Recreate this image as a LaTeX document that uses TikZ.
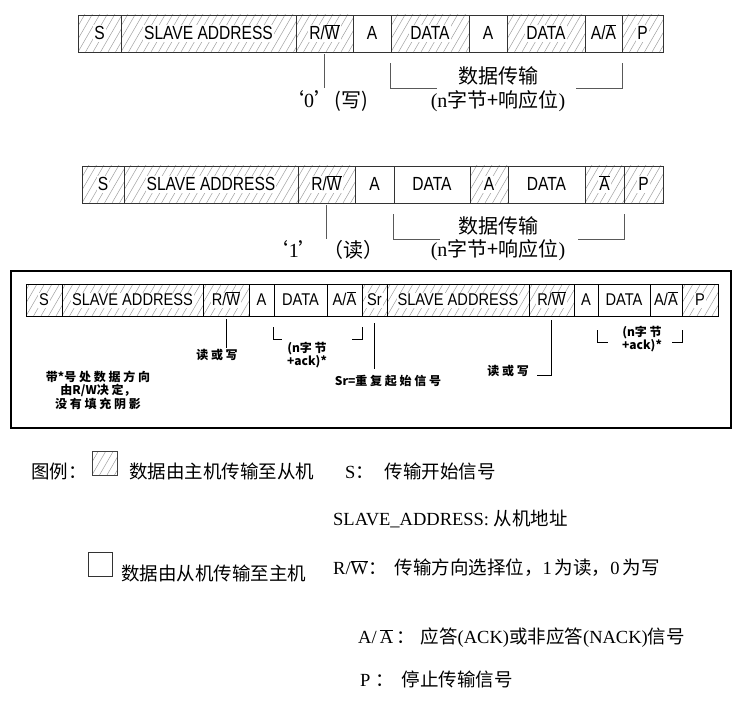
\documentclass[tikz,border=0pt]{standalone}
\usepackage{fontspec}
\setmainfont{Liberation Serif}
\newfontfamily\cjk{Noto Sans CJK SC}
\newfontfamily\cellfa[FakeStretch=0.82]{Liberation Sans}
\newfontfamily\cellfb[FakeStretch=0.86]{Liberation Sans}
\usetikzlibrary{fit}
\newcommand\ovl[1]{\ensuremath{\overline{\mbox{#1}}}}
\begin{document}
\begin{tikzpicture}[x=1pt,y=-1pt]
\tikzset{
 hline/.style={gray!75, line width=0.5pt},
 hatch/.style={path picture={\foreach \i in {-8,...,26}{\draw[hline] ([xshift=\i*7.5pt]path picture bounding box.south west) -- ++(22pt,38pt);}}},
 cellA/.style={draw=black!80, line width=0.9pt, inner sep=0pt},
 tA/.style={inner sep=1pt, font=\cellfa\fontsize{19}{19}\selectfont, text height=13.5pt, text depth=1pt},
 htA/.style={tA, fill=white},
 cellB/.style={draw=black, line width=0.9pt, inner sep=0pt},
 tB/.style={inner sep=1pt, font=\cellfb\fontsize{17}{17}\selectfont, text height=12pt, text depth=1pt},
 htB/.style={tB, fill=white},
 ann/.style={draw=black!65, line width=0.7pt},
 annB/.style={draw=black, line width=1pt},
 big/.style={font=\fontsize{20}{22}\selectfont, inner sep=0pt},
 note/.style={font=\cjk\bfseries\fontsize{12}{13.5}\selectfont, align=center, inner sep=0pt},
 leg/.style={font=\fontsize{18.5}{20}\selectfont, anchor=west, inner sep=0pt},
}
\useasboundingbox (0,0) rectangle (742,706);

% ---------- row 1 (write) ----------
\node[cellA, hatch, fit={(78,15) (121,52)}, label={[htA]center:S}] (r1s) {};
\node[cellA, hatch, fit={(121,15) (296,52)}, label={[htA]center:SLAVE ADDRESS}] (r1sa) {};
\node[cellA, hatch, fit={(296,15) (353,52)}, label={[htA]center:R/\ovl{W}}] (r1rw) {};
\node[cellA, fit={(353,15) (391,52)}, label={[tA]center:A}] (r1a1) {};
\node[cellA, hatch, fit={(391,15) (469,52)}, label={[htA]center:DATA}] (r1d1) {};
\node[cellA, fit={(469,15) (507,52)}, label={[tA]center:A}] (r1a2) {};
\node[cellA, hatch, fit={(507,15) (585,52)}, label={[htA]center:DATA}] (r1d2) {};
\node[cellA, fit={(585,15) (622,52)}, label={[tA]center:A/\ovl{A}}] (r1aa) {};
\node[cellA, hatch, fit={(622,15) (663,52)}, label={[htA]center:P}] (r1p) {};

\draw[ann] ([yshift=-2pt]r1rw.south) -- ++(0,34);
\draw[ann] ([yshift=-11pt]r1d1.south west) -- ++(0,25) -- ++(46,0);
\draw[ann] ([yshift=-11pt]r1aa.south east) -- ++(0,25) -- ++(-46,0);
\node[big] (r1t1) at (498,76) {\cjk 数据传输};
\node[big] (r1t2) at (498,101) {(n{\cjk 字节+响应位})};
\node[big] (r1t3) at (326,101) {{\cjk ‘}0{\cjk ’(写)}};

% ---------- row 2 (read) ----------
\node[cellA, hatch, fit={(82,166) (124,203)}, label={[htA]center:S}] (r2s) {};
\node[cellA, hatch, fit={(124,166) (298,203)}, label={[htA]center:SLAVE ADDRESS}] (r2sa) {};
\node[cellA, hatch, fit={(298,166) (355,203)}, label={[htA]center:R/\ovl{W}}] (r2rw) {};
\node[cellA, fit={(355,166) (394,203)}, label={[tA]center:A}] (r2a1) {};
\node[cellA, fit={(394,166) (470,203)}, label={[tA]center:DATA}] (r2d1) {};
\node[cellA, hatch, fit={(470,166) (508,203)}, label={[htA]center:A}] (r2a2) {};
\node[cellA, fit={(508,166) (585,203)}, label={[tA]center:DATA}] (r2d2) {};
\node[cellA, hatch, fit={(585,166) (624,203)}, label={[htA]center:\ovl{A}}] (r2na) {};
\node[cellA, hatch, fit={(624,166) (663,203)}, label={[htA]center:P}] (r2p) {};

\draw[ann] ([yshift=-2pt]r2rw.south) -- ++(0,34);
\draw[ann] ([yshift=-11pt]r2d1.south west) -- ++(0,25) -- ++(46,0);
\draw[ann] ([yshift=-11pt]r2na.south east) -- ++(0,25) -- ++(-46,0);
\node[big] (r2t1) at (498,226) {\cjk 数据传输};
\node[big] (r2t2) at (498,250) {(n{\cjk 字节+响应位})};
\node[big] (r2t3) at (326,250) {{\cjk ‘}1{\cjk ’ （读）}};

% ---------- combined frame ----------
\node[draw=black, line width=1.2pt, inner sep=0pt, fit={(11,271) (731,428)}] (frame) {};
\node[cellB, hatch, fit={(26,284) (62,316)}, label={[htB]center:S}] (b3s) {};
\node[cellB, hatch, fit={(62,284) (203,316)}, label={[htB]center:SLAVE ADDRESS}] (b3sa1) {};
\node[cellB, hatch, fit={(203,284) (249,316)}, label={[htB]center:R/\ovl{W}}] (b3rw1) {};
\node[cellB, fit={(249,284) (274,316)}, label={[tB]center:A}] (b3a1) {};
\node[cellB, fit={(274,284) (327,316)}, label={[tB]center:DATA}] (b3d1) {};
\node[cellB, fit={(327,284) (362,316)}, label={[tB]center:A/\ovl{A}}] (b3aa1) {};
\node[cellB, hatch, fit={(362,284) (387,316)}, label={[htB]center:Sr}] (b3sr) {};
\node[cellB, hatch, fit={(387,284) (529,316)}, label={[htB]center:SLAVE ADDRESS}] (b3sa2) {};
\node[cellB, hatch, fit={(529,284) (574,316)}, label={[htB]center:R/\ovl{W}}] (b3rw2) {};
\node[cellB, fit={(574,284) (598,316)}, label={[tB]center:A}] (b3a2) {};
\node[cellB, fit={(598,284) (650,316)}, label={[tB]center:DATA}] (b3d2) {};
\node[cellB, fit={(650,284) (682,316)}, label={[tB]center:A/\ovl{A}}] (b3aa2) {};
\node[cellB, hatch, fit={(682,284) (718,316)}, label={[htB]center:P}] (b3p) {};

\draw[annB] ([yshift=-3pt]b3rw1.south) -- ++(0,29);
\node[note] (n3rw1) at (217,355) {读 或 写};
\draw[annB] ([yshift=-11pt]b3d1.south west) -- ++(0,12) -- ++(8,0);
\draw[annB] ([yshift=-11pt]b3aa1.south east) -- ++(0,12) -- ++(-10,0);
\node[note] (n3b1) at (307,355) {(n字 节\\+ack)*};
\draw[annB] ([yshift=-7pt]b3sr.south) -- ++(0,46);
\node[note] (n3sr) at (388,381) {Sr=重 复 起 始 信 号};
\node[note] (n3note) at (98,390) {带*号 处 数 据 方 向\\由R/W决 定，\\没 有 填 充 阴 影};
\draw[annB] ([yshift=-4pt]b3rw2.south) -- ++(0,55) -- ++(-15,0);
\node[note] (n3rw2) at (508,371) {读 或 写};
\draw[annB] ([yshift=-14pt]b3d2.south west) -- ++(0,12) -- ++(10,0);
\draw[annB] ([yshift=-14pt]b3aa2.south east) -- ++(0,12) -- ++(-10,0);
\node[note] (n3b2) at (642,339) {(n字 节\\+ack)*};

% ---------- legend ----------
\node[leg] (lg0) at (31,471) {\cjk 图例：};
\node[draw=black!75, line width=0.8pt, inner sep=0pt, hatch, fit={(92,451) (117,475)}] (lgh) {};
\node[leg] (lg1) at (129,471) {\cjk 数据由主机传输至从机};
\node[leg] (lg2) at (345,471) {S{\cjk ：}\hspace{11pt}{\cjk 传输开始信号}};
\node[leg] (lg3) at (333,519) {SLAVE\_ADDRESS: {\cjk 从机地址}};
\node[draw=black!80, line width=0.8pt, inner sep=0pt, fit={(88,552) (112,576)}] (lge) {};
\node[leg] (lg4) at (121,573) {\cjk 数据由从机传输至主机};
\node[leg] (lg5) at (333,568) {R/\ovl{W}{\cjk ：}\hspace{8pt}{\cjk 传输方向选择位，}1\,{\cjk 为读，}0\,{\cjk 为写}};
\node[leg] (lg6) at (358,638) {A/\,\ovl{A}\,{\cjk ：}\hspace{6pt}{\cjk 应答}(ACK){\cjk 或非应答}(NACK){\cjk 信号}};
\node[leg] (lg7) at (360,679) {P\ {\cjk ：}\hspace{8pt}{\cjk 停止传输信号}};
\end{tikzpicture}
\end{document}
